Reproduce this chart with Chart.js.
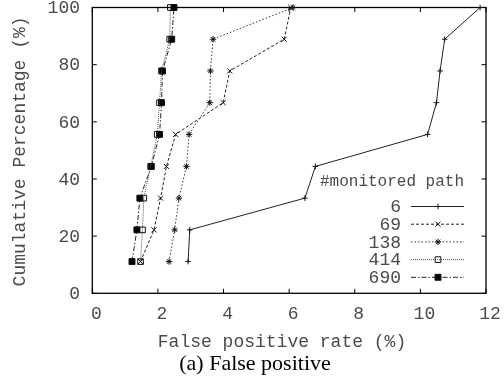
<!DOCTYPE html>
<html>
<head>
<meta charset="utf-8">
<script src="https://cdn.jsdelivr.net/npm/chart.js@4/dist/chart.umd.min.js"></script>
<style>
html,body{margin:0;padding:0;background:#fff;}
#wrap{width:504px;height:380px;}
</style>
</head>
<body>
<div id="wrap"><canvas id="c" width="504" height="380"></canvas></div>
<script>
// ---- data ----
const yLevels = [11.1, 22.2, 33.3, 44.4, 55.6, 66.7, 77.8, 88.9, 100];
const s6   = [2.92, 2.97, 6.48, 6.80, 10.22, 10.49, 10.60, 10.74, 11.82];
const s69  = [1.47, 1.88, 2.08, 2.26, 2.54, 3.99, 4.19, 5.85, 6.05];
const s138 = [2.34, 2.51, 2.64, 2.87, 2.95, 3.58, 3.60, 3.68, 6.12];
const s414 = [1.47, 1.53, 1.57, 1.78, 1.98, 2.05, 2.11, 2.36, 2.38];
const s690 = [1.21, 1.36, 1.45, 1.80, 2.05, 2.11, 2.14, 2.42, 2.49];
const seriesNames = ['6', '69', '138', '414', '690'];
const xTicks = [0, 2, 4, 6, 8, 10, 12];
const yTicks = [0, 20, 40, 60, 80, 100];
const xTitle = 'False positive rate (%)';
const yTitle = 'Cumulative Percentage (%)';
const legendTitle = '#monitored path';
const caption = '(a) False positive';

const styles = [
  {dash: [], ps: 'cross', r: 2.8, fill: '#222', color: '#222'},
  {dash: [3, 2], ps: 'crossRot', r: 3.6, fill: '#222', color: '#222'},
  {dash: [1.5, 2], ps: 'star', r: 3.2, fill: '#222', color: '#333'},
  {dash: [1, 1], ps: 'rect', r: 4, fill: 'rgba(0,0,0,0)', color: '#555'},
  {dash: [5, 2, 1.5, 2], ps: 'rect', r: 4.2, fill: '#000', color: '#222'}
];
const allSeries = [s6, s69, s138, s414, s690];

const datasets = allSeries.map((s, i) => ({
  label: seriesNames[i],
  data: s.map((x, k) => ({x: x, y: yLevels[k]})),
  showLine: true,
  borderColor: styles[i].color,
  borderWidth: 1,
  borderDash: styles[i].dash,
  pointStyle: styles[i].ps,
  pointRadius: styles[i].r,
  pointBorderWidth: 1,
  pointBorderColor: '#111',
  pointBackgroundColor: styles[i].fill,
  fill: false,
  tension: 0,
  clip: false
}));

const MONO = '"Liberation Mono", "DejaVu Sans Mono", monospace';
const TXT = '#4a4a4a';

function drawMarker(ctx, ps, x, y, r, fill) {
  ctx.save();
  ctx.setLineDash([]);
  ctx.strokeStyle = '#111';
  ctx.lineWidth = 1;
  ctx.beginPath();
  if (ps === 'cross' || ps === 'star') {
    ctx.moveTo(x - r, y); ctx.lineTo(x + r, y);
    ctx.moveTo(x, y - r); ctx.lineTo(x, y + r);
  }
  if (ps === 'crossRot' || ps === 'star') {
    const d = r * Math.SQRT1_2;
    ctx.moveTo(x - d, y - d); ctx.lineTo(x + d, y + d);
    ctx.moveTo(x - d, y + d); ctx.lineTo(x + d, y - d);
  }
  if (ps === 'rect') {
    const s = r * Math.SQRT1_2;
    ctx.rect(x - s, y - s, 2 * s, 2 * s);
    ctx.fillStyle = fill;
    ctx.fill();
  }
  ctx.stroke();
  ctx.restore();
}

const decor = {
  id: 'decor',
  beforeDatasetsDraw(chart) {
    const ctx = chart.ctx;
    const a = chart.chartArea;
    const xs = chart.scales.x, ys = chart.scales.y;
    ctx.save();
    // frame
    ctx.strokeStyle = '#000';
    ctx.lineWidth = 1.3;
    ctx.strokeRect(a.left, a.top, a.right - a.left, a.bottom - a.top);
    // ticks (inward, mirrored)
    const tl = 4.5;
    ctx.lineWidth = 1;
    ctx.beginPath();
    xTicks.forEach(v => {
      const px = xs.getPixelForValue(v);
      ctx.moveTo(px, a.bottom); ctx.lineTo(px, a.bottom - tl);
      ctx.moveTo(px, a.top); ctx.lineTo(px, a.top + tl);
    });
    yTicks.forEach(v => {
      const py = ys.getPixelForValue(v);
      ctx.moveTo(a.left, py); ctx.lineTo(a.left + tl, py);
      ctx.moveTo(a.right, py); ctx.lineTo(a.right - tl, py);
    });
    ctx.stroke();
    // tick labels
    ctx.fillStyle = TXT;
    ctx.font = '18px ' + MONO;
    ctx.textAlign = 'center';
    ctx.textBaseline = 'alphabetic';
    xTicks.forEach(v => {
      ctx.fillText(String(v), xs.getPixelForValue(v) + 4, 319);
    });
    ctx.textAlign = 'right';
    ctx.textBaseline = 'middle';
    yTicks.forEach(v => {
      ctx.fillText(String(v), 80, ys.getPixelForValue(v) + 1);
    });
    // axis titles
    ctx.textAlign = 'center';
    ctx.textBaseline = 'alphabetic';
    ctx.fillText(xTitle, 282, 347);
    ctx.save();
    ctx.translate(25, (a.top + a.bottom) / 2 + 1);
    ctx.rotate(-Math.PI / 2);
    ctx.textBaseline = 'alphabetic';
    ctx.fillText(yTitle, 0, 0);
    ctx.restore();
    // caption
    ctx.fillStyle = '#000';
    ctx.font = '22px "Liberation Serif", "Times New Roman", serif';
    ctx.fillText(caption, 255, 370);
    ctx.restore();
  },
  afterDraw(chart) {
    const ctx = chart.ctx;
    ctx.save();
    ctx.fillStyle = TXT;
    ctx.font = '16px ' + MONO;
    ctx.textAlign = 'right';
    ctx.textBaseline = 'middle';
    ctx.fillText(legendTitle, 464, 182);
    ctx.font = '18px ' + MONO;
    seriesNames.forEach((n, i) => {
      const y = 206.5 + i * 17.7;
      ctx.fillStyle = TXT;
      ctx.fillText(n, 401, y + 1);
      ctx.save();
      ctx.strokeStyle = styles[i].color;
      ctx.lineWidth = 1;
      ctx.setLineDash(styles[i].dash);
      ctx.beginPath();
      ctx.moveTo(411, y); ctx.lineTo(464, y);
      ctx.stroke();
      ctx.restore();
      drawMarker(ctx, styles[i].ps, 438, y, styles[i].r, styles[i].fill);
    });
    ctx.restore();
  }
};

new Chart(document.getElementById('c'), {
  type: 'scatter',
  data: {datasets: datasets},
  options: {
    responsive: false,
    animation: false,
    devicePixelRatio: 1,
    layout: {padding: {left: 92.3, right: 18, top: 7.5, bottom: 86.7}},
    plugins: {legend: {display: false}, tooltip: {enabled: false}},
    scales: {
      x: {type: 'linear', min: 0, max: 12, display: false},
      y: {type: 'linear', min: 0, max: 100, display: false}
    }
  },
  plugins: [decor]
});
</script>
</body>
</html>
